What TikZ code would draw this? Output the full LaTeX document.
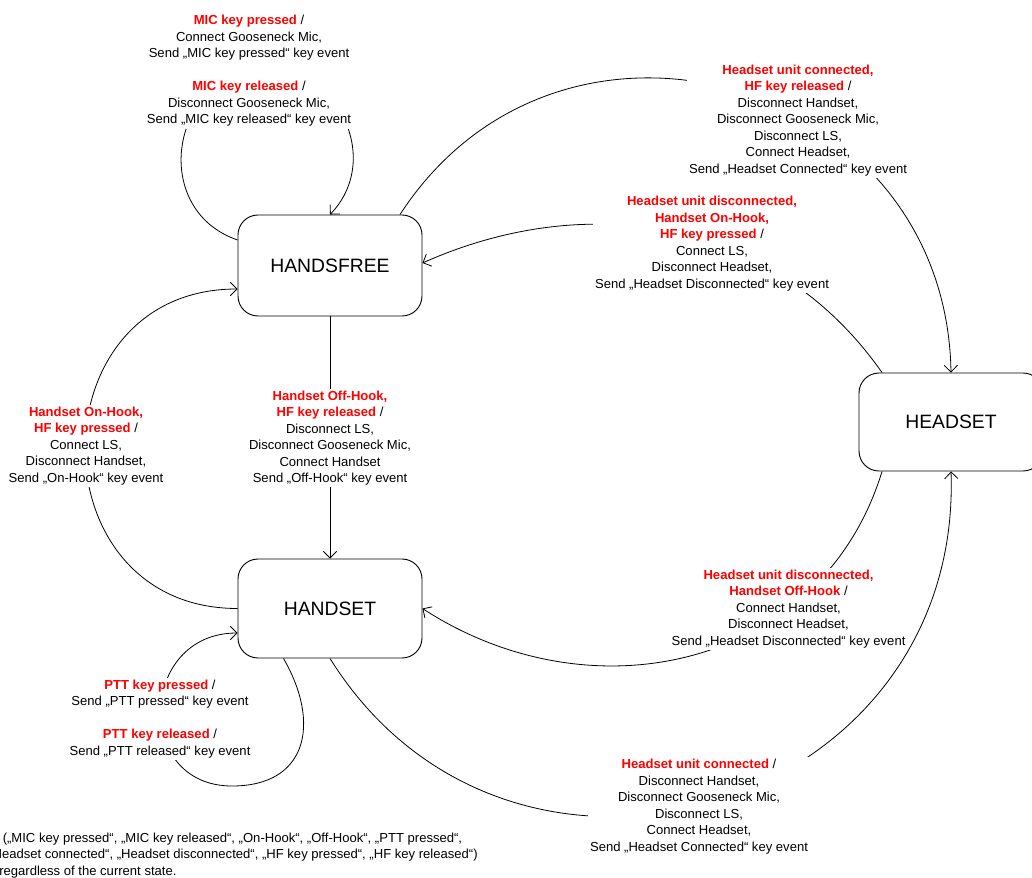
\documentclass[tikz,border=0pt]{standalone}
\usepackage{fontspec}
\setmainfont{Liberation Sans}
\usetikzlibrary{arrows.meta,calc}
\newcommand\ev[1]{\textcolor{red}{\bfseries #1}}
\begin{document}
\begin{tikzpicture}[x=0.75pt,y=-0.75pt,
  font=\fontsize{9.8}{12.4}\selectfont,
  stbox/.style={draw, rounded corners=15pt, minimum width=138pt, minimum height=75pt,
    line width=0.7pt, inner sep=0pt, font=\fontsize{14.5}{17}\selectfont},
  lbl/.style={fill=white, align=center, inner sep=1.5pt},
  tr/.style={-{Straight Barb[length=5pt,width=10pt]}, line width=0.6pt},
  note/.style={anchor=base west, inner sep=0pt}]
\useasboundingbox (0,0) rectangle (1032,878);

\node[stbox, minimum height=75.75pt] (hf) at (330,265.5) {HANDSFREE};
\node[stbox, minimum height=74.25pt] (hs) at (330,608.5) {HANDSET};
\node[stbox, minimum height=73.5pt] (he) at (951,422) {HEADSET};

\coordinate (mictop) at (267,70);
\coordinate (pttb) at (232,786);

% MIC self loop
\draw[tr] ($(hf.west)+(0,-25.5)$) to[out=161,in=180,looseness=1.42] (mictop)
  to[out=0,in=46,looseness=1.2] (hf.north);
% HANDSFREE -> HEADSET
\draw[tr] ($(hf.north)+(70,0)$) to[out=57,in=91,looseness=1.32] (he.north);
% HEADSET -> HANDSFREE
\draw[tr] ($(he.north)+(-69,0)$) to[out=125,in=24,looseness=1] ($(hf.east)+(0,-2.5)$);
% HANDSFREE -> HANDSET
\draw[tr] (hf.south) -- (hs.north);
% HANDSET -> HANDSFREE
\draw[tr] (hs.west) to[out=180,in=180,looseness=1.63] ($(hf.west)+(0,23.5)$);
% HEADSET -> HANDSET
\draw[tr] ($(he.south)+(-69,0)$) to[out=-107,in=-33,looseness=1.09] (hs.east);
% HANDSET -> HEADSET
\draw[tr] (hs.south) to[out=-58,in=-88,looseness=1.35] (he.south);
% PTT self loop
\draw[tr] ($(hs.south)+(-46.5,0)$) to[out=-60,in=0,looseness=1.4] (pttb)
  to[out=180,in=180,looseness=1.65] ($(hs.west)+(0,24.5)$);

\node[lbl] (lmic) at (249,71) {\ev{MIC key pressed} /\\
  Connect Gooseneck Mic,\\
  Send „MIC key pressed“ key event\\[12.4pt]
  \ev{MIC key released} /\\
  Disconnect Gooseneck Mic,\\
  Send „MIC key released“ key event};

\node[lbl] (lhfhe) at (798,120.5) {\ev{Headset unit connected,}\\
  \ev{HF key released} /\\
  Disconnect Handset,\\
  Disconnect Gooseneck Mic,\\
  Disconnect LS,\\
  Connect Headset,\\
  Send „Headset Connected“ key event};

\node[lbl] (lhehf) at (712,243.5) {\ev{Headset unit disconnected,}\\
  \ev{Handset On-Hook,}\\
  \ev{HF key pressed} /\\
  Connect LS,\\
  Disconnect Headset,\\
  Send „Headset Disconnected“ key event};

\node[lbl] (lhfhs) at (330,438) {\ev{Handset Off-Hook,}\\
  \ev{HF key released} /\\
  Disconnect LS,\\
  Disconnect Gooseneck Mic,\\
  Connect Handset\\
  Send „Off-Hook“ key event};

\node[lbl] (lhshf) at (86,446) {\ev{Handset On-Hook,}\\
  \ev{HF key pressed} /\\
  Connect LS,\\
  Disconnect Handset,\\
  Send „On-Hook“ key event};

\node[lbl] (lhehs) at (788.5,609) {\ev{Headset unit disconnected,}\\
  \ev{Handset Off-Hook} /\\
  Connect Handset,\\
  Disconnect Headset,\\
  Send „Headset Disconnected“ key event};

\node[lbl] (lhshe) at (699,806.5) {\ev{Headset unit connected} /\\
  Disconnect Handset,\\
  Disconnect Gooseneck Mic,\\
  Disconnect LS,\\
  Connect Headset,\\
  Send „Headset Connected“ key event};

\node[lbl] (lptt) at (160,719) {\ev{PTT key pressed} /\\
  Send „PTT pressed“ key event\\[12.4pt]
  \ev{PTT key released} /\\
  Send „PTT released“ key event};

\node[note] (n1) at (2.5,842) {(„MIC key pressed“, „MIC key released“, „On-Hook“, „Off-Hook“, „PTT pressed“,};
\node[note] (n2) at (-12,858.5) {„Headset connected“, „Headset disconnected“, „HF key pressed“, „HF key released“)};
\node[note] (n3) at (-1,875) {regardless of the current state.};
\end{tikzpicture}
\end{document}
